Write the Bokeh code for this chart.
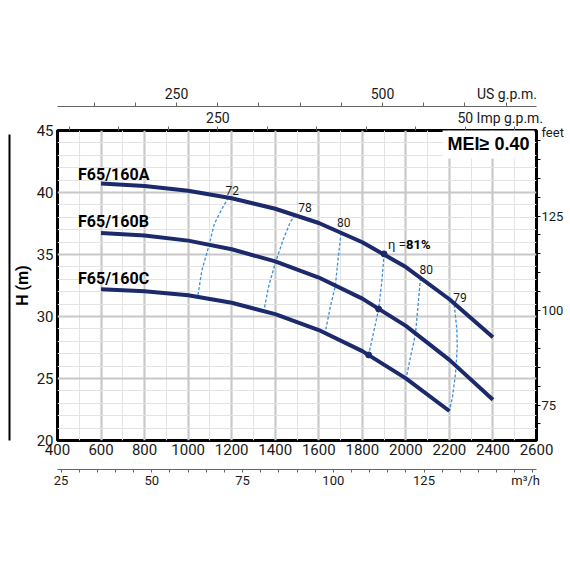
from bokeh.plotting import figure
from bokeh.models import LinearAxis, Range1d, FixedTicker, Label
from bokeh.embed import file_html
from bokeh.resources import INLINE

# ---------------- data ----------------
flow_AB = [600, 800, 1000, 1200, 1400, 1600, 1800, 2000, 2200, 2400]   # l/min
head_A = [40.72, 40.52, 40.14, 39.54, 38.69, 37.54, 35.99, 33.99, 31.39, 28.33]  # m
head_B = [36.74, 36.54, 36.12, 35.42, 34.44, 33.14, 31.44, 29.24, 26.50, 23.28]
flow_C = [600, 800, 1000, 1200, 1400, 1600, 1800, 2000, 2200]
head_C = [32.19, 32.03, 31.71, 31.11, 30.19, 28.91, 27.21, 25.01, 22.38]
curve_names = ["F65/160A", "F65/160B", "F65/160C"]

# iso-efficiency lines (top point on curve A first)
eff72_q = [1185, 1155, 1120, 1097, 1063, 1044]
eff72_h = [39.60, 38.67, 37.46, 35.80, 33.72, 31.60]
eff78_q = [1492, 1469, 1438, 1400, 1369, 1349]
eff78_h = [38.20, 37.60, 36.26, 34.30, 32.38, 30.55]
eff80a_q = [1702, 1684, 1676, 1653, 1630]
eff80a_h = [36.75, 33.85, 32.45, 30.77, 28.75]
eff81_q = [1900, 1890, 1875, 1852, 1829]
eff81_h = [35.05, 32.90, 30.60, 28.73, 26.90]
eff80b_q = [2067, 2054, 2044, 2022, 2002]
eff80b_h = [33.10, 30.50, 28.57, 26.80, 25.05]
eff79_q = [2222, 2234, 2236, 2228, 2214, 2200]
eff79_h = [30.95, 29.00, 27.50, 25.40, 23.50, 22.38]
eff_labels = ["72", "78", "80", "81%", "80", "79"]
bep_q = [eff81_q[0], eff81_q[2], eff81_q[4]]
bep_h = [eff81_h[0], eff81_h[2], eff81_h[4]]

x_ticks = [400, 600, 800, 1000, 1200, 1400, 1600, 1800, 2000, 2200, 2400, 2600]
y_ticks = [20, 25, 30, 35, 40, 45]
m3h_ticks = [25, 50, 75, 100, 125]
usgpm_ticks = [250, 500]
impgpm_ticks = [250, 500]
impgpm_shown = {250: "250", 500: "50"}   # the reference shows the 500 partly hidden
feet_ticks = [75, 100, 125]
unit_labels = {"us": "US g.p.m.", "imp": "Imp g.p.m.", "ft": "feet", "m3h": "m\u00b3/h"}
mei_text = "MEI\u2265 0.40"

LPM_PER_USGPM = 3.78541
LPM_PER_IMPGPM = 4.54609
M3H_PER_LPM = 0.06
FT_PER_M = 3.28084

# ---------------- styles ----------------
FONT = "Roboto"
NAVY = "#1c2a6b"
DASH = "#3a8fd8"
TXT = "#1a1a1a"
XMIN, XMAX, YMIN, YMAX = 400, 2600, 20, 45
# positions (axis units) where the unit names are written
US_NAME_AT, IMP_NAME_AT, FT_NAME_AT, M3H_NAME_AT = 651, 545, 147, 153

p = figure(width=566, height=510, x_range=Range1d(XMIN, XMAX), y_range=Range1d(YMIN, YMAX),
           output_backend="svg", toolbar_location=None,
           min_border_left=57, min_border_right=29, min_border_top=130, min_border_bottom=70)
p.background_fill_color = "white"
p.border_fill_color = "white"
p.outline_line_color = "black"
p.outline_line_width = 3

p.extra_x_ranges = {
    "m3h": Range1d(XMIN * M3H_PER_LPM, XMAX * M3H_PER_LPM),
    "us": Range1d(XMIN / LPM_PER_USGPM, XMAX / LPM_PER_USGPM),
    "imp": Range1d(XMIN / LPM_PER_IMPGPM, XMAX / LPM_PER_IMPGPM),
}
p.extra_y_ranges = {"ft": Range1d(YMIN * FT_PER_M, YMAX * FT_PER_M)}

def style_axis(ax, size, standoff):
    ax.major_label_text_font = FONT
    ax.major_label_text_font_size = size
    ax.major_label_text_color = TXT
    ax.major_label_standoff = standoff
    ax.major_tick_in = 0
    ax.minor_tick_in = 0
    ax.major_tick_out = 0

# primary x (l/min)
xt = FixedTicker(ticks=x_ticks, minor_ticks=[t + 100 for t in x_ticks[:-1]])
xa = p.xaxis[0]
xa.ticker = xt
style_axis(xa, "15px", 3)
xa.minor_tick_out = 0
xa.axis_line_color = None
xa.axis_label = " "
xa.axis_label_text_font_size = "8px"
xa.axis_label_standoff = 0
p.xgrid.ticker = xt

# primary y (m)
yt = FixedTicker(ticks=y_ticks, minor_ticks=[v for v in range(21, 45) if v % 5])
ya = p.yaxis[0]
ya.ticker = yt
style_axis(ya, "15px", 4)
ya.minor_tick_out = 0
ya.axis_line_color = None
ya.axis_label = "H (m)"
ya.axis_label_text_font = FONT
ya.axis_label_text_font_style = "bold"
ya.axis_label_text_font_size = "16px"
ya.axis_label_text_color = "black"
ya.axis_label_standoff = 2
p.ygrid.ticker = yt

for g in (p.xgrid, p.ygrid):
    g.grid_line_color = "#c8c8c8"
    g.grid_line_width = 2.2
    g.minor_grid_line_color = "#e3e3e3"
    g.minor_grid_line_width = 1

# left bar
bar = LinearAxis(ticker=FixedTicker(ticks=[]), bounds=(YMIN, 44.7))
bar.axis_line_width = 2
bar.axis_line_color = "black"
bar.major_label_text_font_size = "0px"
bar.major_tick_out = 0
bar.minor_tick_out = 0
p.add_layout(bar, "left")

# m3/h axis
m3 = LinearAxis(x_range_name="m3h",
                ticker=FixedTicker(ticks=m3h_ticks + [M3H_NAME_AT], minor_ticks=list(range(25, 156, 5))),
                major_label_overrides={M3H_NAME_AT: unit_labels["m3h"]})
style_axis(m3, "13px", 0)
m3.minor_tick_out = 3
m3.axis_line_color = "#666666"
m3.minor_tick_line_color = "#666666"
p.add_layout(m3, "below")

# Imp g.p.m. axis (just above the frame)
imp_over = dict(impgpm_shown)
imp_over[IMP_NAME_AT] = unit_labels["imp"]
imp = LinearAxis(x_range_name="imp",
                 ticker=FixedTicker(ticks=impgpm_ticks + [IMP_NAME_AT], minor_ticks=list(range(100, 572, 50))),
                 major_label_overrides=imp_over)
style_axis(imp, "14px", 1)
imp.minor_tick_out = 4
imp.axis_line_color = None
imp.minor_tick_line_color = "#666666"
p.add_layout(imp, "above")

# US g.p.m. axis
us = LinearAxis(x_range_name="us",
                ticker=FixedTicker(ticks=usgpm_ticks + [US_NAME_AT], minor_ticks=list(range(150, 687, 50))),
                major_label_overrides={US_NAME_AT: unit_labels["us"]})
style_axis(us, "14px", 1)
us.minor_tick_out = 4
us.axis_line_color = "#666666"
us.minor_tick_line_color = "#666666"
p.add_layout(us, "above")

# feet axis
ft = LinearAxis(y_range_name="ft",
                ticker=FixedTicker(ticks=feet_ticks + [FT_NAME_AT], minor_ticks=list(range(70, 148, 5))),
                major_label_overrides={FT_NAME_AT: unit_labels["ft"]})
style_axis(ft, "13px", 1)
ft.minor_tick_out = 4
ft.axis_line_color = None
ft.minor_tick_line_color = "black"
p.add_layout(ft, "right")

# ---------------- glyphs ----------------
for q, h in [(eff72_q, eff72_h), (eff78_q, eff78_h), (eff80a_q, eff80a_h),
             (eff81_q, eff81_h), (eff80b_q, eff80b_h), (eff79_q, eff79_h)]:
    p.line(q, h, line_color=DASH, line_width=1.3, line_dash="3 2")

for q, h in [(flow_AB, head_A), (flow_AB, head_B), (flow_C, head_C)]:
    p.line(q, h, line_color=NAVY, line_width=4, line_join="round")

p.scatter(bep_q, bep_h, size=6, color=NAVY)

def note(text, x, y, dx, dy, size, bold=False, color=TXT, align="left", font=FONT, **kw):
    p.add_layout(Label(x=x, y=y, text=text, x_offset=dx, y_offset=dy, text_font=font,
                       text_font_size=size, text_font_style="bold" if bold else "normal",
                       text_color=color, text_baseline="middle", text_align=align, **kw))

# curve names
note(curve_names[0], flow_AB[0], head_A[0], -23, 9, "16px", bold=True, color="black")
note(curve_names[1], flow_AB[0], head_B[0], -23, 11.5, "16px", bold=True, color="black")
note(curve_names[2], flow_C[0], head_C[0], -23, 10.5, "16px", bold=True, color="black")

# efficiency labels
note(eff_labels[0], eff72_q[0], eff72_h[0], -3, 7, "12px")
note(eff_labels[1], eff78_q[0], eff78_h[0], 3, 7.5, "12px")
note(eff_labels[2], eff80a_q[0], eff80a_h[0], -4, 10.5, "12px")
note(eff_labels[4], eff80b_q[0], eff80b_h[0], -1, 8.5, "12px")
note(eff_labels[5], eff79_q[0], eff79_h[0], -1, 7.5, "12px")
note("\u03b7 =", eff81_q[0], eff81_h[0], 4, 9.5, "13px")
note(eff_labels[3], eff81_q[0], eff81_h[0], 22, 9.5, "13px", bold=True, color="black")

# MEI box
note(mei_text, XMAX, YMAX, -2, -13, "18px", bold=True, color="black", align="right",
     font="Liberation Sans", background_fill_color="white", padding=5)

open("out.html", "w").write(file_html(p, INLINE))
